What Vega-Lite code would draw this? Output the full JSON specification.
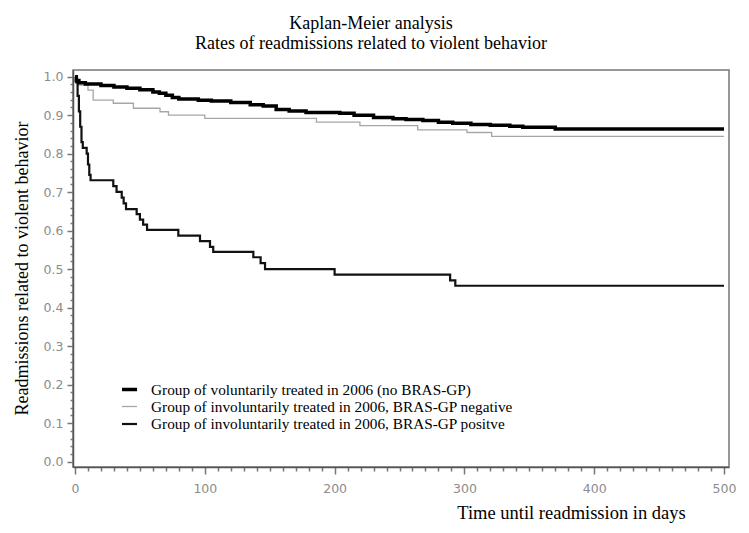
{
  "$schema": "https://vega.github.io/schema/vega-lite/v6.json",
  "width": 656,
  "height": 397,
  "autosize": "none",
  "padding": {"left": 73, "top": 70, "right": 20, "bottom": 66},
  "background": "white",
  "title": {
    "text": ["Kaplan-Meier analysis", "Rates of readmissions related to violent behavior"],
    "font": "Liberation Serif",
    "fontSize": 18,
    "fontWeight": "normal",
    "color": "black",
    "anchor": "middle",
    "frame": "group",
    "lineHeight": 20,
    "offset": 17,
    "dx": -30
  },
  "config": {
    "view": {"stroke": "#777", "strokeWidth": 1.5},
    "axis": {"grid": false}
  },
  "data": {
    "values": [
      {"group": "Group of involuntarily treated in 2006, BRAS-GP negative", "day": 0, "surv": 1.0},
      {"group": "Group of involuntarily treated in 2006, BRAS-GP negative", "day": 2, "surv": 0.978},
      {"group": "Group of involuntarily treated in 2006, BRAS-GP negative", "day": 10, "surv": 0.965},
      {"group": "Group of involuntarily treated in 2006, BRAS-GP negative", "day": 14, "surv": 0.939},
      {"group": "Group of involuntarily treated in 2006, BRAS-GP negative", "day": 29.5, "surv": 0.931},
      {"group": "Group of involuntarily treated in 2006, BRAS-GP negative", "day": 45, "surv": 0.918},
      {"group": "Group of involuntarily treated in 2006, BRAS-GP negative", "day": 65.5, "surv": 0.909},
      {"group": "Group of involuntarily treated in 2006, BRAS-GP negative", "day": 72, "surv": 0.9},
      {"group": "Group of involuntarily treated in 2006, BRAS-GP negative", "day": 100, "surv": 0.892},
      {"group": "Group of involuntarily treated in 2006, BRAS-GP negative", "day": 186, "surv": 0.882},
      {"group": "Group of involuntarily treated in 2006, BRAS-GP negative", "day": 219.5, "surv": 0.873},
      {"group": "Group of involuntarily treated in 2006, BRAS-GP negative", "day": 264, "surv": 0.862},
      {"group": "Group of involuntarily treated in 2006, BRAS-GP negative", "day": 302, "surv": 0.855},
      {"group": "Group of involuntarily treated in 2006, BRAS-GP negative", "day": 321, "surv": 0.845},
      {"group": "Group of involuntarily treated in 2006, BRAS-GP negative", "day": 500, "surv": 0.845},
      {"group": "Group of involuntarily treated in 2006, BRAS-GP positve", "day": 0, "surv": 1.0},
      {"group": "Group of involuntarily treated in 2006, BRAS-GP positve", "day": 1, "surv": 0.985},
      {"group": "Group of involuntarily treated in 2006, BRAS-GP positve", "day": 2, "surv": 0.95},
      {"group": "Group of involuntarily treated in 2006, BRAS-GP positve", "day": 3, "surv": 0.91},
      {"group": "Group of involuntarily treated in 2006, BRAS-GP positve", "day": 4, "surv": 0.87},
      {"group": "Group of involuntarily treated in 2006, BRAS-GP positve", "day": 5, "surv": 0.83},
      {"group": "Group of involuntarily treated in 2006, BRAS-GP positve", "day": 6, "surv": 0.815},
      {"group": "Group of involuntarily treated in 2006, BRAS-GP positve", "day": 9, "surv": 0.8},
      {"group": "Group of involuntarily treated in 2006, BRAS-GP positve", "day": 10, "surv": 0.772},
      {"group": "Group of involuntarily treated in 2006, BRAS-GP positve", "day": 11, "surv": 0.745},
      {"group": "Group of involuntarily treated in 2006, BRAS-GP positve", "day": 12, "surv": 0.731},
      {"group": "Group of involuntarily treated in 2006, BRAS-GP positve", "day": 29.5, "surv": 0.716},
      {"group": "Group of involuntarily treated in 2006, BRAS-GP positve", "day": 32, "surv": 0.701},
      {"group": "Group of involuntarily treated in 2006, BRAS-GP positve", "day": 36, "surv": 0.686},
      {"group": "Group of involuntarily treated in 2006, BRAS-GP positve", "day": 37.5, "surv": 0.671},
      {"group": "Group of involuntarily treated in 2006, BRAS-GP positve", "day": 39.3, "surv": 0.656},
      {"group": "Group of involuntarily treated in 2006, BRAS-GP positve", "day": 47.5, "surv": 0.643},
      {"group": "Group of involuntarily treated in 2006, BRAS-GP positve", "day": 50, "surv": 0.629},
      {"group": "Group of involuntarily treated in 2006, BRAS-GP positve", "day": 52.5, "surv": 0.616},
      {"group": "Group of involuntarily treated in 2006, BRAS-GP positve", "day": 55.5, "surv": 0.602},
      {"group": "Group of involuntarily treated in 2006, BRAS-GP positve", "day": 79.6, "surv": 0.587},
      {"group": "Group of involuntarily treated in 2006, BRAS-GP positve", "day": 96.3, "surv": 0.573},
      {"group": "Group of involuntarily treated in 2006, BRAS-GP positve", "day": 104, "surv": 0.558},
      {"group": "Group of involuntarily treated in 2006, BRAS-GP positve", "day": 106.5, "surv": 0.545},
      {"group": "Group of involuntarily treated in 2006, BRAS-GP positve", "day": 137.4, "surv": 0.531},
      {"group": "Group of involuntarily treated in 2006, BRAS-GP positve", "day": 143, "surv": 0.516},
      {"group": "Group of involuntarily treated in 2006, BRAS-GP positve", "day": 146.4, "surv": 0.5},
      {"group": "Group of involuntarily treated in 2006, BRAS-GP positve", "day": 200, "surv": 0.486},
      {"group": "Group of involuntarily treated in 2006, BRAS-GP positve", "day": 289, "surv": 0.471},
      {"group": "Group of involuntarily treated in 2006, BRAS-GP positve", "day": 293, "surv": 0.457},
      {"group": "Group of involuntarily treated in 2006, BRAS-GP positve", "day": 500, "surv": 0.457},
      {"group": "Group of voluntarily treated in 2006 (no BRAS-GP)", "day": 0, "surv": 1.0},
      {"group": "Group of voluntarily treated in 2006 (no BRAS-GP)", "day": 1, "surv": 0.99},
      {"group": "Group of voluntarily treated in 2006 (no BRAS-GP)", "day": 3, "surv": 0.984},
      {"group": "Group of voluntarily treated in 2006 (no BRAS-GP)", "day": 8, "surv": 0.981},
      {"group": "Group of voluntarily treated in 2006 (no BRAS-GP)", "day": 20, "surv": 0.977},
      {"group": "Group of voluntarily treated in 2006 (no BRAS-GP)", "day": 30, "surv": 0.973},
      {"group": "Group of voluntarily treated in 2006 (no BRAS-GP)", "day": 40, "surv": 0.97},
      {"group": "Group of voluntarily treated in 2006 (no BRAS-GP)", "day": 50, "surv": 0.966},
      {"group": "Group of voluntarily treated in 2006 (no BRAS-GP)", "day": 60, "surv": 0.96},
      {"group": "Group of voluntarily treated in 2006 (no BRAS-GP)", "day": 65, "surv": 0.957},
      {"group": "Group of voluntarily treated in 2006 (no BRAS-GP)", "day": 70, "surv": 0.952},
      {"group": "Group of voluntarily treated in 2006 (no BRAS-GP)", "day": 75, "surv": 0.946},
      {"group": "Group of voluntarily treated in 2006 (no BRAS-GP)", "day": 80, "surv": 0.942},
      {"group": "Group of voluntarily treated in 2006 (no BRAS-GP)", "day": 95, "surv": 0.939},
      {"group": "Group of voluntarily treated in 2006 (no BRAS-GP)", "day": 105, "surv": 0.937},
      {"group": "Group of voluntarily treated in 2006 (no BRAS-GP)", "day": 120, "surv": 0.933},
      {"group": "Group of voluntarily treated in 2006 (no BRAS-GP)", "day": 135, "surv": 0.927},
      {"group": "Group of voluntarily treated in 2006 (no BRAS-GP)", "day": 145, "surv": 0.924},
      {"group": "Group of voluntarily treated in 2006 (no BRAS-GP)", "day": 155, "surv": 0.915},
      {"group": "Group of voluntarily treated in 2006 (no BRAS-GP)", "day": 165, "surv": 0.911},
      {"group": "Group of voluntarily treated in 2006 (no BRAS-GP)", "day": 178, "surv": 0.907},
      {"group": "Group of voluntarily treated in 2006 (no BRAS-GP)", "day": 204, "surv": 0.905},
      {"group": "Group of voluntarily treated in 2006 (no BRAS-GP)", "day": 215, "surv": 0.9},
      {"group": "Group of voluntarily treated in 2006 (no BRAS-GP)", "day": 230, "surv": 0.894},
      {"group": "Group of voluntarily treated in 2006 (no BRAS-GP)", "day": 245, "surv": 0.891},
      {"group": "Group of voluntarily treated in 2006 (no BRAS-GP)", "day": 255, "surv": 0.889},
      {"group": "Group of voluntarily treated in 2006 (no BRAS-GP)", "day": 268, "surv": 0.886},
      {"group": "Group of voluntarily treated in 2006 (no BRAS-GP)", "day": 280, "surv": 0.882},
      {"group": "Group of voluntarily treated in 2006 (no BRAS-GP)", "day": 291, "surv": 0.879},
      {"group": "Group of voluntarily treated in 2006 (no BRAS-GP)", "day": 305, "surv": 0.876},
      {"group": "Group of voluntarily treated in 2006 (no BRAS-GP)", "day": 320, "surv": 0.874},
      {"group": "Group of voluntarily treated in 2006 (no BRAS-GP)", "day": 335, "surv": 0.871},
      {"group": "Group of voluntarily treated in 2006 (no BRAS-GP)", "day": 345, "surv": 0.869},
      {"group": "Group of voluntarily treated in 2006 (no BRAS-GP)", "day": 370, "surv": 0.864},
      {"group": "Group of voluntarily treated in 2006 (no BRAS-GP)", "day": 500, "surv": 0.864}
    ]
  },
  "mark": {"type": "line", "interpolate": "step-after", "clip": true},
  "encoding": {
    "x": {
      "field": "day",
      "type": "quantitative",
      "scale": {"domain": [-1.54, 503.85], "nice": false, "zero": false},
      "axis": {
        "values": [0,10,20,30,40,50,60,70,80,90,100,110,120,130,140,150,160,170,180,190,200,210,220,230,240,250,260,270,280,290,300,310,320,330,340,350,360,370,380,390,400,410,420,430,440,450,460,470,480,490,500],
        "labelExpr": "datum.value % 100 === 0 ? datum.label : ''",
        "tickSize": {"condition": {"test": "datum.value % 100 === 0", "value": 7}, "value": 4},
        "tickColor": "#777",
        "tickWidth": 1.5,
        "domainColor": "#555",
        "domainWidth": 1.5,
        "labelFont": "DejaVu Sans",
        "labelFontSize": 12.5,
        "labelColor": "#8c8c8c",
        "labelPadding": 8,
        "labelFlush": false,
        "title": "Time until readmission in days",
        "titleFont": "Liberation Serif",
        "titleFontSize": 18.5,
        "titleFontWeight": "normal",
        "titleColor": "black",
        "titleX": 498,
        "titleY": 45,
        "titleAlign": "center",
        "titleBaseline": "middle"
      }
    },
    "y": {
      "field": "surv",
      "type": "quantitative",
      "scale": {"domain": [-0.0138, 1.0174], "nice": false, "zero": false},
      "axis": {
        "values": [0,0.02,0.04,0.06,0.08,0.1,0.12,0.14,0.16,0.18,0.2,0.22,0.24,0.26,0.28,0.3,0.32,0.34,0.36,0.38,0.4,0.42,0.44,0.46,0.48,0.5,0.52,0.54,0.56,0.58,0.6,0.62,0.64,0.66,0.68,0.7,0.72,0.74,0.76,0.78,0.8,0.82,0.84,0.86,0.88,0.9,0.92,0.94,0.96,0.98,1.0],
        "format": ".1f",
        "labelExpr": "abs(datum.value * 10 - round(datum.value * 10)) < 0.001 ? datum.label : ''",
        "tickSize": {"condition": {"test": "abs(datum.value * 10 - round(datum.value * 10)) < 0.001", "value": 6}, "value": 3},
        "tickColor": "#777",
        "tickWidth": 1.5,
        "domainColor": "#555",
        "domainWidth": 1.5,
        "labelFont": "DejaVu Sans",
        "labelFontSize": 12.5,
        "labelColor": "#8c8c8c",
        "labelPadding": 4,
        "labelFlush": false,
        "title": "Readmissions related to violent behavior",
        "titleFont": "Liberation Serif",
        "titleFontSize": 18,
        "titleFontWeight": "normal",
        "titleColor": "black",
        "titleX": -51,
        "titleY": 198,
        "titleAngle": -90,
        "titleAlign": "center",
        "titleBaseline": "middle"
      }
    },
    "color": {
      "field": "group",
      "type": "nominal",
      "scale": {
        "domain": ["Group of voluntarily treated in 2006 (no BRAS-GP)", "Group of involuntarily treated in 2006, BRAS-GP negative", "Group of involuntarily treated in 2006, BRAS-GP positve"],
        "range": ["#000000", "#a6a6a6", "#111111"]
      },
      "legend": {
        "orient": "none",
        "legendX": 47,
        "legendY": 310,
        "title": null,
        "symbolType": "stroke",
        "symbolSize": 225,
        "labelFont": "Liberation Serif",
        "labelFontSize": 15.3,
        "labelColor": "black",
        "labelOffset": 12,
        "labelLimit": 600,
        "rowPadding": 0,
        "padding": 0
      }
    },
    "strokeWidth": {
      "field": "group",
      "type": "nominal",
      "scale": {
        "type": "ordinal",
        "domain": ["Group of voluntarily treated in 2006 (no BRAS-GP)", "Group of involuntarily treated in 2006, BRAS-GP negative", "Group of involuntarily treated in 2006, BRAS-GP positve"],
        "range": [3.5, 1.3, 2.2]
      },
      "legend": null
    }
  }
}
